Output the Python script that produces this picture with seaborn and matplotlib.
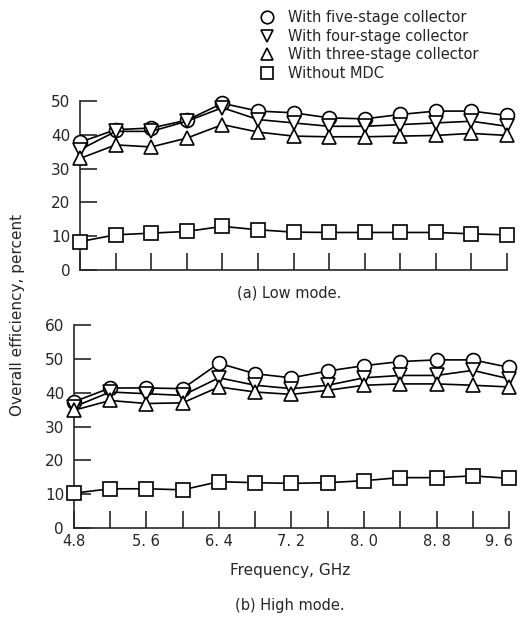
import pandas as pd
import matplotlib
matplotlib.use("Agg")
import matplotlib.pyplot as plt
import matplotlib.transforms as mtrans
import seaborn as sns
from matplotlib.lines import Line2D

# frekuensi (GHz)
freq = [4.8, 5.2, 5.6, 6.0, 6.4, 6.8, 7.2, 7.6, 8.0, 8.4, 8.8, 9.2, 9.6]

# (a) Low mode
low_five = [37.8, 41.5, 42.0, 44.3, 49.3, 47.0, 46.5, 45.0, 44.7, 46.0, 47.0, 47.0, 45.7]
low_four = [35.6, 41.0, 41.0, 44.0, 48.0, 44.5, 43.5, 42.5, 42.5, 43.0, 43.5, 44.0, 42.5]
low_three = [33.0, 37.0, 36.4, 39.0, 43.0, 40.8, 39.6, 39.4, 39.4, 39.6, 39.8, 40.4, 39.8]
low_none = [8.4, 10.4, 10.9, 11.4, 12.9, 11.9, 11.2, 11.1, 11.1, 11.1, 11.1, 10.7, 10.4]

# (b) High mode
high_five = [37.3, 41.4, 41.4, 41.2, 48.7, 45.6, 44.4, 46.4, 48.0, 49.2, 49.7, 49.7, 47.5]
high_four = [35.8, 40.2, 39.7, 39.2, 44.4, 42.2, 41.2, 42.2, 44.4, 45.1, 45.1, 46.6, 44.1]
high_three = [34.8, 37.7, 36.8, 37.0, 41.7, 40.2, 39.5, 40.7, 42.2, 42.6, 42.6, 42.2, 41.7]
high_none = [10.3, 11.6, 11.6, 11.3, 13.7, 13.4, 13.2, 13.4, 14.0, 14.9, 14.9, 15.4, 14.7]

series_labels = ["With five-stage collector", "With four-stage collector",
                 "With three-stage collector", "Without MDC"]
series_markers = ["o", "v", "^", "s"]

xtick_vals = [4.8, 5.6, 6.4, 7.2, 8.0, 8.8, 9.6]
xtick_labels = ["4.8", "5. 6", "6. 4", "7. 2", "8. 0", "8. 8", "9. 6"]

sns.set_style("ticks")
plt.rcParams["font.family"] = ["DejaVu Sans"]

fig = plt.figure(figsize=(5.2, 6.17), dpi=100)
ax_low = fig.add_axes([0.154, 0.5624, 0.821, 0.274])
ax_high = fig.add_axes([0.142, 0.1442, 0.837, 0.329])


def gambar(ax, data, ymax):
    for vals, mk in zip(data, series_markers):
        sns.lineplot(x=freq, y=vals, ax=ax, color="black", linewidth=1.2,
                     marker=mk, markersize=10, markerfacecolor="white",
                     markeredgecolor="black", markeredgewidth=1.2,
                     clip_on=False, zorder=3)
    ax.set_xlim(4.8, 9.6)
    ax.set_ylim(0, ymax)
    ax.set_yticks(range(0, ymax + 1, 10))
    ax.set_xticks(freq)
    ax.tick_params(direction="in", length=12, width=1.2, labelsize=11, pad=7)
    sns.despine(ax=ax)
    for s in ["left", "bottom"]:
        ax.spines[s].set_linewidth(1.2)


gambar(ax_low, [low_five, low_four, low_three, low_none], 50)
ax_low.set_xticklabels([])

gambar(ax_high, [high_five, high_four, high_three, high_none], 60)
ax_high.set_xticks(freq)
ax_high.set_xticklabels([xtick_labels[xtick_vals.index(f)] if f in xtick_vals else ""
                         for f in freq])
ax_high.tick_params(axis="x", pad=4, labelsize=10.5)
# geser label terakhir sedikit ke kiri supaya tidak terpotong
lbl = ax_high.get_xticklabels()[-1]
lbl.set_transform(lbl.get_transform() + mtrans.ScaledTranslation(-7 / 72, 0, fig.dpi_scale_trans))

fig.text(0.557, 0.525, "(a) Low mode.", ha="center", va="center", fontsize=10.5)
fig.text(0.557, 0.076, "Frequency, GHz", ha="center", va="center", fontsize=11)
fig.text(0.557, 0.018, "(b) High mode.", ha="center", va="center", fontsize=10.5)
fig.text(0.033, 0.489, "Overall efficiency, percent", rotation=90,
         ha="center", va="center", fontsize=11)

handles = [Line2D([], [], linestyle="none", marker=m, markersize=9,
                  markerfacecolor="white", markeredgecolor="black",
                  markeredgewidth=1.2) for m in series_markers]
fig.legend(handles, series_labels, loc="upper left", bbox_to_anchor=(0.475, 1.005),
           frameon=False, fontsize=10.5, handletextpad=0.9, labelspacing=0.25,
           handlelength=1.0)

plt.savefig("out.png", dpi=100)
